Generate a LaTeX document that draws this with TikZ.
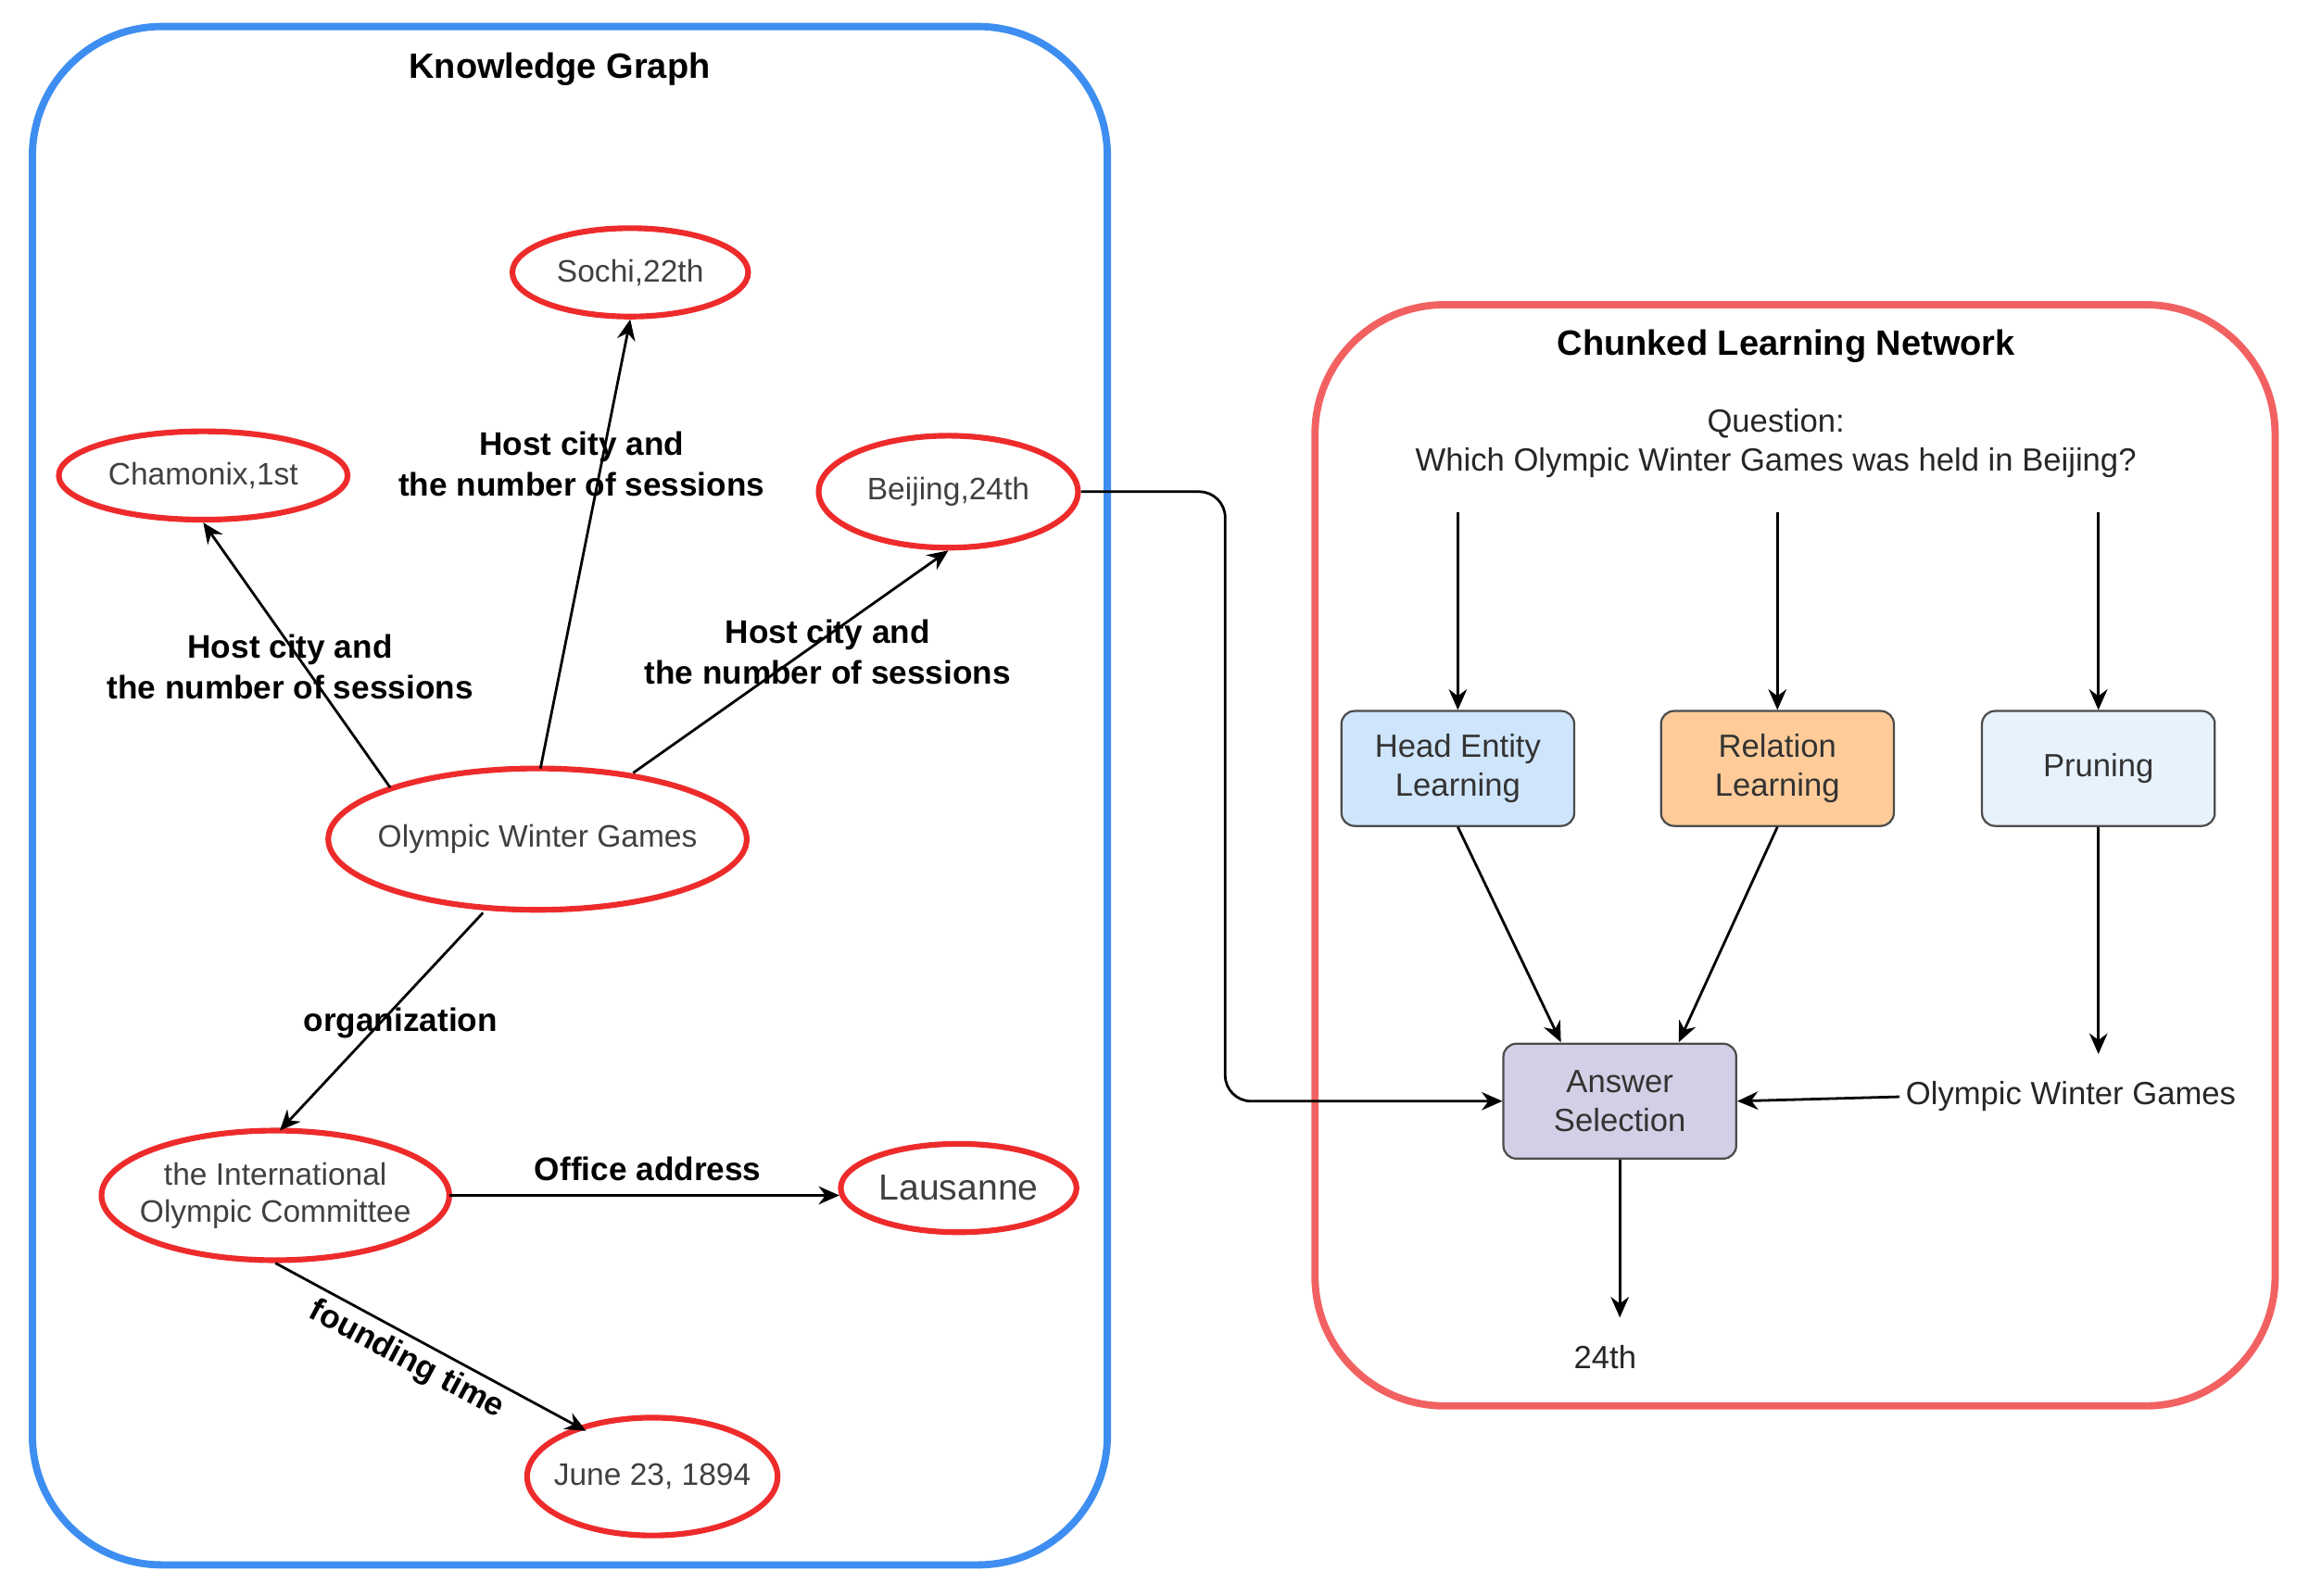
\documentclass[tikz,border=0pt]{standalone}
\usepackage{fontspec}
\setmainfont{Liberation Sans}
\usetikzlibrary{shapes.geometric,arrows.meta}
\definecolor{kgblue}{HTML}{3D8EF0}
\definecolor{clred}{HTML}{F26161}
\definecolor{ered}{HTML}{EE2B2B}
\definecolor{hblue}{HTML}{CFE5FB}
\definecolor{rorange}{HTML}{FFCC99}
\definecolor{plight}{HTML}{E8F2FD}
\definecolor{apurple}{HTML}{D2D0E6}
\begin{document}
\begin{tikzpicture}[x=0.01cm,y=-0.01cm,
  ent/.style={ellipse,draw=ered,line width=1.1pt,inner sep=0pt,font=\fontsize{6}{7.2}\selectfont,text=black!75},
  lbl/.style={font=\bfseries\fontsize{6.3}{7.8}\selectfont,align=center},
  arr/.style={-{Stealth[length=4pt,width=3.5pt]},line width=0.5pt},
  box/.style={draw=black!70,rounded corners=2.5pt,font=\fontsize{6.2}{7.6}\selectfont,align=center,text=black!80},
  txt/.style={font=\fontsize{6.2}{7.6}\selectfont,align=center,text=black!85}]
\useasboundingbox (0,0) rectangle (1568,1084);
\draw[kgblue,line width=1.4pt,rounded corners=25pt] (22,18) rectangle (752,1063);
\node[font=\bfseries\fontsize{6.8}{8}\selectfont] (kgt) at (380,47) {Knowledge Graph};
\draw[clred,line width=1.4pt,rounded corners=25pt] (893,207) rectangle (1545,955);
\node[font=\bfseries\fontsize{6.8}{8}\selectfont] (clt) at (1213,235) {Chunked Learning Network};

\node[ent,minimum width=1.6cm,minimum height=0.6cm] (sochi) at (428,185) {Sochi,22th};
\node[ent,minimum width=1.96cm,minimum height=0.6cm] (cham) at (138,323) {Chamonix,1st};
\node[ent,minimum width=1.76cm,minimum height=0.76cm] (bei) at (644,334) {Beijing,24th};
\node[ent,minimum width=2.84cm,minimum height=0.96cm,inner sep=-4pt] (owg) at (365,570) {Olympic Winter Games};
\node[ent,minimum width=2.36cm,minimum height=0.88cm,align=center,inner sep=-3pt] (ioc) at (187,812) {the International\\Olympic Committee};
\node[ent,minimum width=1.6cm,minimum height=0.6cm,font=\fontsize{7}{8}\selectfont,inner sep=-2pt] (lau) at (651,807) {Lausanne};
\node[ent,minimum width=1.7cm,minimum height=0.8cm,inner sep=-2pt] (june) at (443,1003) {June 23, 1894};

\coordinate (a1) at (265,535);
\coordinate (a2) at (367,522);
\coordinate (a3) at (430,525);
\coordinate (a4) at (328,620);
\coordinate (t4) at (190,768);
\coordinate (t6) at (398,972);
\coordinate (a5) at (305,812);
\coordinate (t5) at (570,812);
\draw[arr] (a1) -- (cham.south);
\draw[arr] (a2) -- (sochi.south);
\draw[arr] (a3) -- (bei.south);
\draw[arr] (a4) -- (t4);
\draw[arr] (a5) -- (t5);
\draw[arr] (ioc.south) -- (t6);

\node[lbl] (l1) at (197,453) {Host city and\\the number of sessions};
\node[lbl] (l2) at (395,315) {Host city and\\the number of sessions};
\node[lbl] (l3) at (562,443) {Host city and\\the number of sessions};
\node[lbl] (l4) at (272,695) {organization};
\node[lbl] (l5) at (440,794) {Office address};
\node[lbl,rotate=-28] (l6) at (276,924) {founding time};

\node[txt] (q) at (1206,301) {Question:\\Which Olympic Winter Games was held in Beijing?};
\node[box,fill=hblue,minimum width=1.58cm,minimum height=0.78cm] (he) at (990,522) {Head Entity\\Learning};
\node[box,fill=rorange,minimum width=1.58cm,minimum height=0.78cm] (rl) at (1207,522) {Relation\\Learning};
\node[box,fill=plight,minimum width=1.58cm,minimum height=0.78cm] (pr) at (1425,522) {Pruning};
\node[box,fill=apurple,minimum width=1.58cm,minimum height=0.78cm] (as) at (1100,748) {Answer\\Selection};
\node[txt,anchor=west,inner sep=1pt] (owt) at (1290,745) {Olympic Winter Games};
\node[txt] (ans) at (1090,922) {24th};
\coordinate (q1) at (990,348); \coordinate (q2) at (1207,348); \coordinate (q3) at (1425,348);
\coordinate (pe) at (1425,716); \coordinate (ae) at (1100,895);
\coordinate (h2) at (1060,708); \coordinate (r2) at (1140,708);
\draw[arr] (q1) -- (he.north);
\draw[arr] (q2) -- (rl.north);
\draw[arr] (q3) -- (pr.north);
\draw[arr] (he.south) -- (h2);
\draw[arr] (rl.south) -- (r2);
\draw[arr] (pr.south) -- (pe);
\draw[arr] (owt.west) -- (as.east);
\draw[arr] (as.south) -- (ae);
\draw[arr,rounded corners=5pt] (bei.east) -- (832,334) -- (832,748) -- (as.west);
\end{tikzpicture}
\end{document}
